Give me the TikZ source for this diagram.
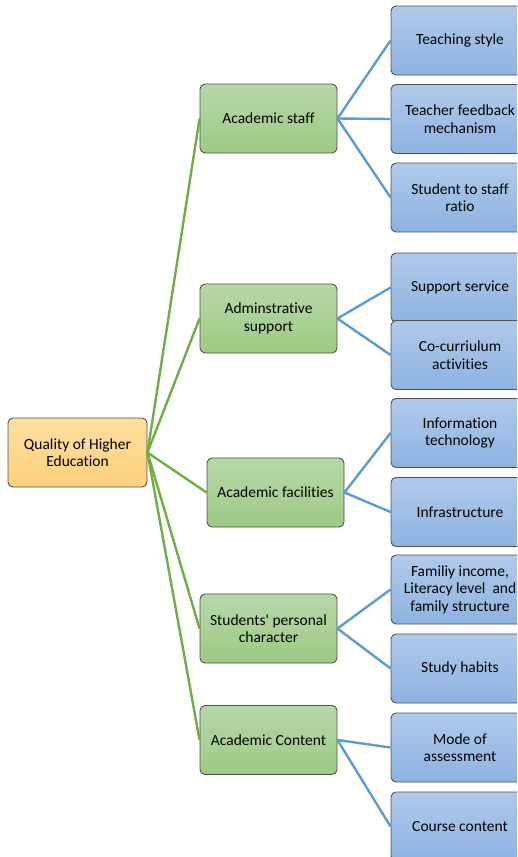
\documentclass[tikz,border=0pt]{standalone}
\usepackage{fontspec}
\setmainfont{Carlito}[Ligatures={NoCommon}]
\definecolor{rootTop}{HTML}{FEDEA0}
\definecolor{rootBot}{HTML}{FFD27C}
\definecolor{grnTop}{HTML}{B6D8A7}
\definecolor{grnBot}{HTML}{9ECA84}
\definecolor{bluTop}{HTML}{B0CAEA}
\definecolor{bluBot}{HTML}{8DB3E2}
\definecolor{edgeGrey}{HTML}{4F4F4F}
\definecolor{grnLine}{HTML}{70AD47}
\definecolor{bluLine}{HTML}{5B9BD5}
\tikzset{
  box/.style={draw=edgeGrey, line width=0.9pt, rounded corners=5pt,
    minimum height=69pt, inner sep=0pt, align=center,
    font=\fontsize{15.5}{17.5}\selectfont, text=black},
  rootbox/.style={box, minimum width=139pt, top color=rootTop, bottom color=rootBot},
  topicbox/.style={box, minimum width=137pt, top color=grnTop, bottom color=grnBot},
  itembox/.style={box, minimum width=138pt, top color=bluTop, bottom color=bluBot},
  grnlink/.style={draw=grnLine, line width=2.4pt},
  blulink/.style={draw=bluLine, line width=2.4pt}
}
\begin{document}
\begin{tikzpicture}[x=1pt, y=-1pt]
\useasboundingbox (0,0) rectangle (517,857);
\clip (0,0) rectangle (517,857);

% root
\node[rootbox] (root) at (77.5,452.5) {Quality of Higher\\Education};

% second level
\node[topicbox] (staff) at (268.5,118.5) {Academic staff};
\node[topicbox] (admin) at (268.5,318.5) {Adminstrative\\support};
\node[topicbox] (facil) at (275.5,492.5) {Academic facilities};
\node[topicbox] (pers)  at (268.5,628.5) {Students\textquotesingle{} personal\\character};
\node[topicbox] (cont)  at (268.5,740)   {Academic Content};

% third level
\node[itembox] (teach)  at (460,40.5)  {Teaching style};
\node[itembox] (feed)   at (460,119)   {Teacher feedback\\mechanism};
\node[itembox] (ratio)  at (460,197.5) {Student to staff\\ratio};
\node[itembox] (supp)   at (460,287.5) {Support service};
\node[itembox] (cocur)  at (460,355)   {Co-curriulum\\activities};
\node[itembox] (info)   at (460,433)   {Information\\technology};
\node[itembox] (infra)  at (460,512)   {Infrastructure};
\node[itembox] (fam)    at (460,589.5) {Familiy income,\\Literacy level\ \ and\\family structure};
\node[itembox] (habit)  at (460,668.5) {Study habits};
\node[itembox] (mode)   at (460,747.5) {Mode of\\assessment};
\node[itembox] (course) at (460,826.5) {Course content};

% links from the root
\foreach \t in {staff,admin,facil,pers,cont}
  \draw[grnlink] (root.east) -- (\t.west);

% links to the items
\foreach \t in {teach,feed,ratio}
  \draw[blulink] (staff.east) -- (\t.west);
\foreach \t in {supp,cocur}
  \draw[blulink] (admin.east) -- (\t.west);
\foreach \t in {info,infra}
  \draw[blulink] (facil.east) -- (\t.west);
\foreach \t in {fam,habit}
  \draw[blulink] (pers.east) -- (\t.west);
\foreach \t in {mode,course}
  \draw[blulink] (cont.east) -- (\t.west);
\end{tikzpicture}
\end{document}
